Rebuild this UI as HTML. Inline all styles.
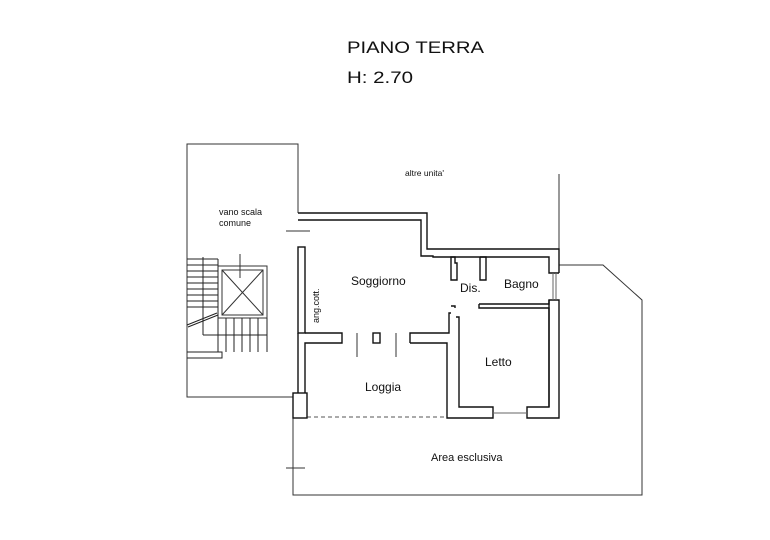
<!DOCTYPE html>
<html><head><meta charset="utf-8"><style>html,body{margin:0;padding:0;background:#fff}svg{display:block}text{font-family:"Liberation Sans",Arial,sans-serif;fill:#111}</style></head>
<body>
<svg width="770" height="540" viewBox="0 0 770 540" xmlns="http://www.w3.org/2000/svg">
<rect width="770" height="540" fill="#fff"/>
<text x="347" y="53" font-size="17" textLength="137" lengthAdjust="spacingAndGlyphs">PIANO TERRA</text>
<text x="347" y="83" font-size="17" textLength="66" lengthAdjust="spacingAndGlyphs">H: 2.70</text>

<g fill="none" stroke="#333" stroke-width="1">
<polyline points="298,213 298,144 187,144 187,397 293,397"/>
<rect x="218" y="266" width="49" height="52"/>
<rect x="222" y="270" width="41" height="45"/>
<line x1="222" y1="270" x2="263" y2="315"/><line x1="263" y1="270" x2="222" y2="315"/>
<line x1="240" y1="254" x2="240" y2="278"/>
<g stroke="#222">
<line x1="187" y1="259" x2="218" y2="259"/>
<line x1="187" y1="265" x2="218" y2="265"/>
<line x1="187" y1="271" x2="218" y2="271"/>
<line x1="187" y1="277" x2="218" y2="277"/>
<line x1="187" y1="283" x2="218" y2="283"/>
<line x1="187" y1="289" x2="218" y2="289"/>
<line x1="187" y1="295" x2="218" y2="295"/>
<line x1="187" y1="301" x2="218" y2="301"/>
<line x1="187" y1="307" x2="218" y2="307"/>
<line x1="218" y1="259" x2="218" y2="318"/>
<line x1="203" y1="257" x2="203" y2="335"/>
<line x1="187" y1="325" x2="217" y2="313"/>
<line x1="188" y1="327" x2="218" y2="315"/>
<line x1="203" y1="335" x2="267" y2="335"/>
<line x1="218" y1="318" x2="218" y2="352"/>
<line x1="226" y1="318" x2="226" y2="352"/>
<line x1="234" y1="318" x2="234" y2="352"/>
<line x1="242" y1="318" x2="242" y2="352"/>
<line x1="250" y1="318" x2="250" y2="352"/>
<line x1="258" y1="318" x2="258" y2="352"/>
<line x1="267" y1="318" x2="267" y2="352"/>
<polyline points="187,352 222,352 222,358 187,358"/>
</g>
<polyline points="559,265 603,265 642,300 642,495 293,495 293,418"/>
<line x1="559" y1="174" x2="559" y2="250"/>
<line x1="286" y1="231" x2="310" y2="231"/>
<line x1="286" y1="468" x2="305" y2="468"/>
<line x1="357" y1="333" x2="357" y2="357"/>
<line x1="396" y1="333" x2="396" y2="357"/>
</g>
<line x1="307" y1="417" x2="447" y2="417" stroke="#555" stroke-dasharray="4,3"/>

<g fill="none" stroke="#111" stroke-width="1.4">
<polyline points="298,213 427,213 427,249 559,249 559,273"/>
<polyline points="298,220 421,220 421,256 433,256 433,257 549,257 549,273 559,273"/>
<rect x="298" y="247" width="7" height="86"/>
<line x1="298" y1="333" x2="298" y2="393"/>
<rect x="293" y="393" width="14" height="25"/>
<polyline points="305,333 342,333 342,343 305,343 305,393"/>
<rect x="373" y="333" width="7" height="10"/>
<polyline points="410,343 410,333 449,333 449,313 451,313"/>
<polyline points="410,343 447,343 447,418 493,418 493,407 459,407 459,317 456,317"/>
<polyline points="451,264 451,257 455,257 455,263 457,263 457,280 451,280 451,264"/>
<polyline points="480,257 486,257 486,280 480,280 480,257"/>
<polyline points="451,306 455,306 455,308"/>
<polyline points="479,304 549,304 549,300 559,300 559,418 527,418 527,407 549,407 549,308 479,308 479,304"/>
<line x1="549" y1="300" x2="549" y2="407"/>
</g>
<g stroke="#666" stroke-width="1">
<line x1="553" y1="273" x2="553" y2="300"/><line x1="556" y1="273" x2="556" y2="300"/>
<line x1="493" y1="413" x2="527" y2="413"/>
</g>

<g font-size="12">
<text x="351" y="285">Soggiorno</text>
<text x="460" y="292">Dis.</text>
<text x="504" y="288">Bagno</text>
<text x="485" y="366">Letto</text>
<text x="365" y="391">Loggia</text>
<text x="431" y="461" font-size="11">Area esclusiva</text>
<text x="219" y="215" font-size="9" fill="#333">vano scala</text>
<text x="219" y="226" font-size="9" fill="#333">comune</text>
<text x="405" y="176" font-size="8.5" fill="#333">altre unita'</text>
<text x="0" y="0" font-size="9" fill="#333" transform="translate(319,323) rotate(-90)">ang.cott.</text>
</g>
</svg>
</body></html>
